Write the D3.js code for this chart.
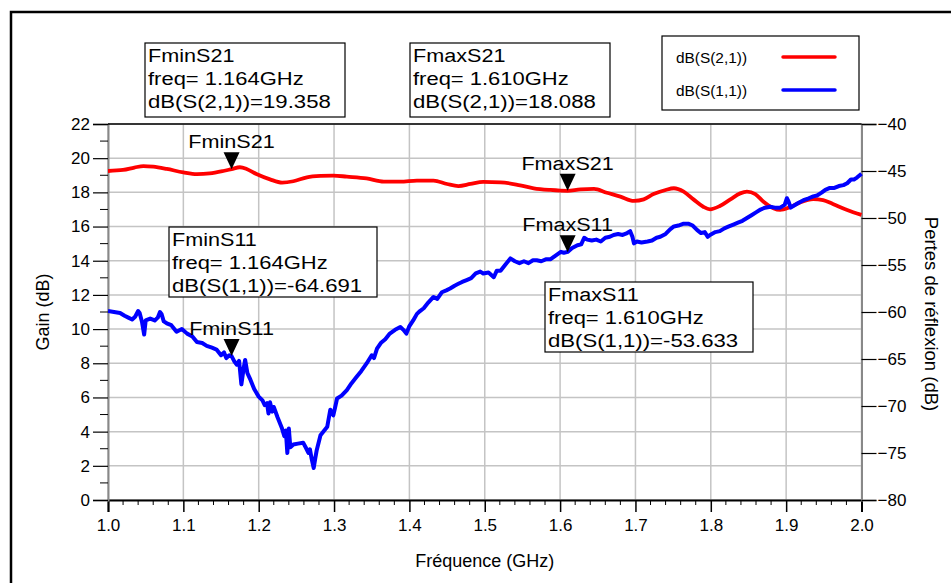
<!DOCTYPE html>
<html><head><meta charset="utf-8">
<script src="https://cdn.jsdelivr.net/npm/d3@7"></script>
<style>body{margin:0;background:#fff}svg{display:block}text{font-family:"Liberation Sans",Arial,sans-serif}</style>
</head><body>
<svg id="c" width="951" height="583"></svg>
<script>
const freqS21 = [1.000,1.020,1.035,1.047,1.060,1.078,1.100,1.118,1.135,1.153,1.164,1.175,1.184,1.197,1.215,1.231,1.246,1.264,1.282,1.299,1.317,1.343,1.366,1.388,1.410,1.432,1.450,1.465,1.481,1.498,1.521,1.547,1.565,1.587,1.610,1.627,1.645,1.662,1.680,1.698,1.711,1.724,1.740,1.751,1.764,1.777,1.790,1.799,1.812,1.826,1.839,1.848,1.859,1.870,1.883,1.892,1.905,1.918,1.936,1.949,1.962,1.981,2.000];
const gainS21 = [19.25,19.31,19.45,19.54,19.50,19.37,19.17,19.07,19.11,19.25,19.36,19.47,19.37,19.07,18.76,18.57,18.65,18.88,18.96,18.98,18.92,18.82,18.63,18.63,18.69,18.69,18.49,18.37,18.49,18.61,18.59,18.41,18.24,18.14,18.09,18.18,18.20,17.98,17.75,17.50,17.59,17.90,18.14,18.24,18.04,17.59,17.16,17.01,17.20,17.59,17.94,18.04,17.90,17.45,17.07,16.97,17.13,17.40,17.61,17.55,17.32,16.97,16.68];

const freqS11 = [1.000,1.008,1.016,1.022,1.027,1.032,1.036,1.040,1.042,1.045,1.048,1.050,1.056,1.062,1.066,1.069,1.071,1.074,1.078,1.084,1.091,1.098,1.105,1.112,1.118,1.125,1.131,1.138,1.144,1.150,1.154,1.157,1.161,1.164,1.168,1.171,1.174,1.177,1.180,1.182,1.185,1.189,1.194,1.200,1.205,1.208,1.211,1.213,1.215,1.218,1.220,1.225,1.231,1.234,1.236,1.238,1.240,1.242,1.246,1.252,1.259,1.263,1.266,1.268,1.270,1.273,1.275,1.277,1.282,1.287,1.291,1.295,1.299,1.301,1.304,1.310,1.317,1.323,1.330,1.336,1.343,1.350,1.353,1.357,1.362,1.368,1.374,1.381,1.388,1.392,1.396,1.400,1.405,1.410,1.414,1.419,1.425,1.432,1.437,1.443,1.449,1.454,1.460,1.465,1.470,1.476,1.482,1.488,1.494,1.498,1.505,1.512,1.516,1.521,1.527,1.534,1.540,1.546,1.552,1.558,1.564,1.569,1.575,1.581,1.587,1.594,1.601,1.605,1.610,1.616,1.623,1.628,1.632,1.636,1.642,1.648,1.654,1.660,1.666,1.671,1.677,1.683,1.689,1.693,1.696,1.698,1.702,1.708,1.716,1.722,1.728,1.733,1.740,1.746,1.751,1.757,1.764,1.770,1.776,1.782,1.787,1.792,1.796,1.799,1.806,1.812,1.818,1.824,1.830,1.836,1.842,1.848,1.854,1.860,1.866,1.872,1.879,1.885,1.892,1.898,1.901,1.903,1.906,1.910,1.916,1.923,1.930,1.936,1.941,1.947,1.952,1.958,1.964,1.970,1.976,1.981,1.986,1.990,1.994,2.000];
const lossS11 = [-59.9,-60.0,-60.1,-60.4,-60.6,-60.8,-60.5,-59.9,-60.1,-61.0,-62.4,-60.9,-60.7,-60.9,-60.6,-60.0,-60.2,-61.0,-61.2,-61.4,-62.1,-61.8,-62.3,-62.6,-63.2,-63.3,-63.6,-63.8,-64.0,-64.6,-64.3,-64.9,-64.6,-64.7,-65.3,-65.6,-65.2,-67.7,-66.0,-65.1,-66.5,-67.2,-68.2,-69.0,-69.4,-69.9,-69.7,-70.8,-69.6,-70.6,-70.1,-71.2,-72.4,-73.2,-72.6,-75.0,-72.4,-74.4,-74.1,-74.0,-73.9,-74.5,-75.0,-74.6,-75.5,-76.6,-75.6,-74.7,-73.1,-72.6,-72.2,-70.4,-71.0,-70.3,-69.2,-68.9,-68.3,-67.6,-66.9,-66.3,-65.5,-64.6,-64.9,-63.9,-63.3,-62.9,-62.3,-61.9,-61.6,-61.9,-62.3,-61.5,-60.9,-60.2,-59.9,-59.6,-59.0,-58.4,-58.6,-57.9,-57.7,-57.5,-57.2,-57.0,-56.8,-56.6,-56.4,-55.9,-55.7,-55.9,-55.8,-56.3,-55.6,-55.6,-55.0,-54.3,-54.6,-54.8,-54.6,-54.8,-54.5,-54.5,-54.6,-54.4,-54.4,-54.0,-53.6,-53.7,-53.6,-53.2,-52.9,-52.8,-52.1,-52.3,-52.4,-52.3,-52.5,-52.1,-52.0,-51.8,-51.7,-51.8,-51.6,-51.4,-52.0,-52.7,-52.5,-52.6,-52.5,-52.4,-52.1,-52.0,-51.7,-51.2,-50.9,-50.8,-50.6,-50.6,-50.8,-51.3,-51.6,-51.5,-52.0,-51.8,-51.5,-51.4,-51.1,-50.9,-50.7,-50.5,-50.3,-50.0,-49.7,-49.4,-49.1,-48.9,-48.8,-48.9,-48.9,-48.6,-47.9,-48.2,-48.9,-48.7,-48.4,-48.1,-47.9,-47.7,-47.6,-47.3,-47.0,-46.8,-46.8,-46.6,-46.5,-46.3,-45.9,-45.9,-45.7,-45.3];

const xTicks = [1.0,1.1,1.2,1.3,1.4,1.5,1.6,1.7,1.8,1.9,2.0];
const yLeftTicks = [0,2,4,6,8,10,12,14,16,18,20,22];
const yRightTicks = [-80,-75,-70,-65,-60,-55,-50,-45,-40];
const seriesNames = ["dB(S(2,1))","dB(S(1,1))"];
const seriesColors = ["#ff0000","#0000ff"];
const markers = [
  {name:"FminS21", freq:1.164, value:19.358, axis:"left",  label:"dB(S(2,1))=19.358"},
  {name:"FmaxS21", freq:1.610, value:18.088, axis:"left",  label:"dB(S(2,1))=18.088"},
  {name:"FminS11", freq:1.164, value:-64.691, axis:"right", label:"dB(S(1,1))=-64.691"},
  {name:"FmaxS11", freq:1.610, value:-53.633, axis:"right", label:"dB(S(1,1))=-53.633"}
];
const markerBoxes = [[145,43],[410,43],[169,227],[545,282]];

const svg = d3.select("#c");
const L=108, R=861.5, T=124, B=500;
const x = d3.scaleLinear().domain([1,2]).range([L,R]);
const yL = d3.scaleLinear().domain([0,22]).range([B,T]);
const yR = d3.scaleLinear().domain([-80,-40]).range([B,T]);

// outer frame
svg.append("rect").attr("x",11).attr("y",12).attr("width",1200).attr("height",1200)
  .attr("fill","none").attr("stroke","#000").attr("stroke-width",2.5);

// grid
const g = svg.append("g");
g.selectAll(".vg").data(xTicks).join("line")
  .attr("x1",d=>x(d)).attr("x2",d=>x(d)).attr("y1",T).attr("y2",B)
  .attr("stroke","#c4c4c4").attr("stroke-width",1.5);
g.selectAll(".hg").data(yLeftTicks).join("line")
  .attr("x1",L).attr("x2",R).attr("y1",d=>yL(d)).attr("y2",d=>yL(d))
  .attr("stroke","#c4c4c4").attr("stroke-width",1.5);

// axes
const fmt = d3.format(".1f");
const xAxis = d3.axisBottom(x).tickValues(xTicks).tickFormat(fmt).tickSize(12).tickPadding(7);
const ax = svg.append("g").attr("transform",`translate(0,${B})`).call(xAxis);
ax.select(".domain").attr("stroke","#000").attr("stroke-width",2);
const minorX = d3.range(0,51).map(i=>1+i*0.02).filter(v=>Math.abs(v*10-Math.round(v*10))>1e-6);
ax.selectAll(".mx").data(minorX).join("line").attr("x1",d=>x(d)).attr("x2",d=>x(d)).attr("y1",0).attr("y2",5).attr("stroke","#000").attr("stroke-width",1);

const yAxisL = d3.axisLeft(yL).tickValues(yLeftTicks).tickSize(15).tickPadding(3);
const ayl = svg.append("g").attr("transform",`translate(${L},0)`).call(yAxisL);
ayl.select(".domain").attr("stroke","#888").attr("stroke-width",2);
const minorY = d3.range(1,22,2);
ayl.selectAll(".my").data(minorY).join("line").attr("x1",-8).attr("x2",0).attr("y1",d=>yL(d)).attr("y2",d=>yL(d)).attr("stroke","#000").attr("stroke-width",1);

const yAxisR = d3.axisRight(yR).tickValues(yRightTicks).tickSize(15).tickPadding(1);
const ayr = svg.append("g").attr("transform",`translate(${R},0)`).call(yAxisR);
ayr.select(".domain").attr("stroke","#888").attr("stroke-width",2);

[ax,ayl,ayr].forEach(a=>{
  a.selectAll(".tick line").attr("stroke","#000").attr("stroke-width",1.2);
  a.selectAll("text").attr("font-size",17).attr("fill","#000").style("font-family","'Liberation Sans',Arial,sans-serif");
  a.attr("font-family",null).attr("font-size",null);
});
ax.selectAll(".tick line").attr("stroke-width",1.5);
svg.append("line").attr("x1",L).attr("x2",R).attr("y1",T).attr("y2",T).attr("stroke","#000").attr("stroke-width",1.5);

// axis titles
svg.append("text").attr("x",(L+R)/2).attr("y",567).attr("text-anchor","middle").attr("font-size",18).text("Fréquence (GHz)");
svg.append("text").attr("transform",`translate(49,${(T+B)/2}) rotate(-90)`).attr("text-anchor","middle").attr("font-size",18).text("Gain (dB)");
svg.append("text").attr("transform",`translate(925,${(T+B)/2+2}) rotate(90)`).attr("text-anchor","middle").attr("font-size",18.5).text("Pertes de réflexion (dB)");

svg.append("clipPath").attr("id","clip").append("rect").attr("x",L).attr("y",T-4).attr("width",R-L+2).attr("height",B-T+4);

const s21 = freqS21.map((f,i)=>[f,gainS21[i]]);
const s11 = freqS11.map((f,i)=>[f,lossS11[i]]);
const lineL = d3.line().x(d=>x(d[0])).y(d=>yL(d[1])).curve(d3.curveMonotoneX);
const lineR = d3.line().x(d=>x(d[0])).y(d=>yR(d[1]));
const cg = svg.append("g").attr("clip-path","url(#clip)");
cg.append("path").datum(s21).attr("d",lineL).attr("fill","none").attr("stroke",seriesColors[0]).attr("stroke-width",3.8).attr("stroke-linejoin","round");
cg.append("path").datum(s11).attr("d",lineR).attr("fill","none").attr("stroke",seriesColors[1]).attr("stroke-width",4).attr("stroke-linejoin","round");

function stext(sel, str, px, py, size, stretch, anchor){
  const t = sel.append("text").attr("x",px).attr("y",py).attr("font-size",size).text(str);
  const len = t.node().getComputedTextLength();
  t.attr("textLength",len*stretch).attr("lengthAdjust","spacingAndGlyphs");
  if(anchor==="middle") t.attr("x",px-len*stretch/2);
  return t;
}

markers.forEach((m,i)=>{
  const mx = x(m.freq), my = (m.axis==="left"?yL:yR)(m.value);
  svg.append("path").attr("d",`M${mx-8},${my-17}L${mx+8},${my-17}L${mx},${my}Z`).attr("fill","#000");
  stext(svg, m.name, mx, my-21, 18, 1.2, "middle");
  const [bx,by] = markerBoxes[i];
  svg.append("rect").attr("x",bx).attr("y",by).attr("width",i<2?200:208).attr("height",i<2?74:70)
    .attr("fill","#fff").attr("stroke","#000").attr("stroke-width",1.2);
  stext(svg, m.name, bx+3, by+19, 18, 1.2);
  stext(svg, "freq= "+m.freq.toFixed(3)+"GHz", bx+3, by+42, 18, 1.22);
  stext(svg, m.label, bx+3, by+65, 18, 1.23);
});

svg.append("rect").attr("x",662).attr("y",36).attr("width",197).attr("height",74).attr("fill","#fff").attr("stroke","#000").attr("stroke-width",1.2);
seriesNames.forEach((n,i)=>{
  const ly = 57 + i*33;
  stext(svg, n, 676, ly+6, 14, 1.1);
  svg.append("line").attr("x1",783).attr("x2",835).attr("y1",ly).attr("y2",ly).attr("stroke",seriesColors[i]).attr("stroke-width",3.5).attr("stroke-linecap","round");
});
</script>
</body></html>
